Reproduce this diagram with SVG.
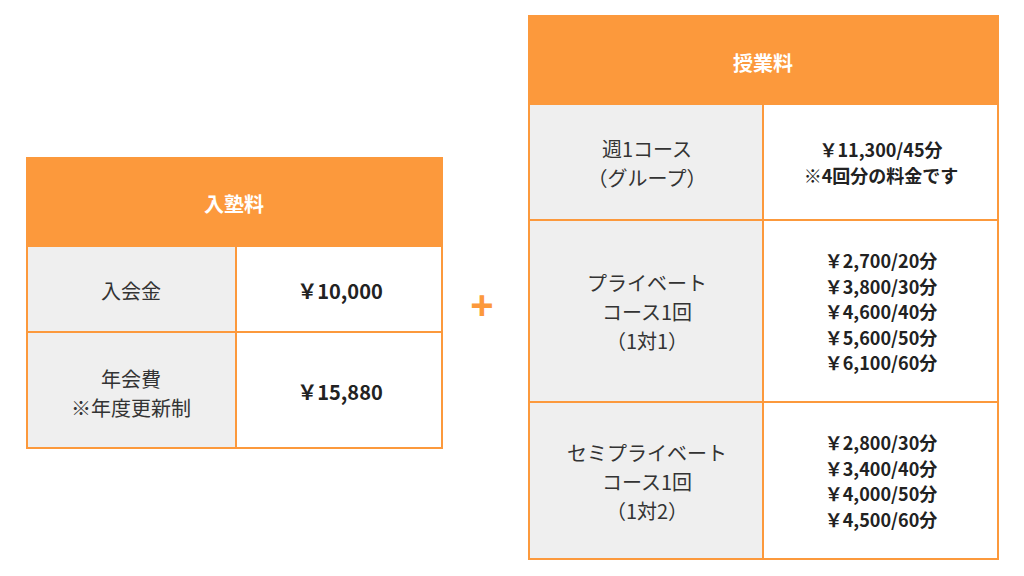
<svg xmlns="http://www.w3.org/2000/svg" width="1024" height="576" viewBox="0 0 1024 576">
<style>
.hd{fill:#FC993C;}
.gc{fill:#EFEFEF;}
.wc{fill:#FFFFFF;}
.ln{stroke:#FC993C;stroke-width:2;fill:none;}
text{font-family:"Noto Sans CJK JP","Noto Sans",sans-serif;text-anchor:middle;dominant-baseline:central;}
.ht{fill:#FFFFFF;font-weight:700;font-size:20px;}
.lb{fill:#333333;font-size:20px;}
.vl{fill:#222222;font-weight:700;font-size:20px;}
.vs{fill:#222222;font-weight:700;font-size:18px;}
.pl{fill:#FC993C;font-family:"Liberation Sans",sans-serif;font-weight:700;font-size:40px;dominant-baseline:auto;}
</style>
<rect width="1024" height="576" fill="#FFFFFF"/>

<g id="entrance-table">
  <g id="entrance-header">
    <rect class="hd" x="27" y="158" width="415" height="88"/>
    <text class="ht" x="234" y="203">入塾料</text>
  </g>
  <g id="entrance-row1">
    <rect class="gc" x="27" y="246" width="209" height="86"/>
    <rect class="wc" x="236" y="246" width="206" height="86"/>
    <text class="lb" x="131" y="290">入会金</text>
    <text class="vl" x="340" y="290">￥10,000</text>
  </g>
  <g id="entrance-row2">
    <rect class="gc" x="27" y="332" width="209" height="116"/>
    <rect class="wc" x="236" y="332" width="206" height="116"/>
    <text class="lb" x="131" y="378">年会費</text>
    <text class="lb" x="131" y="407">※年度更新制</text>
    <text class="vl" x="340" y="391">￥15,880</text>
  </g>
  <g id="entrance-lines">
    <rect class="ln" x="27" y="158" width="415" height="290"/>
    <line class="ln" x1="27" y1="246" x2="442" y2="246"/>
    <line class="ln" x1="27" y1="332" x2="442" y2="332"/>
    <line class="ln" x1="236" y1="246" x2="236" y2="448"/>
  </g>
</g>

<g id="plus">
  <text class="pl" x="482" y="319">+</text>
</g>

<g id="tuition-table">
  <g id="tuition-header">
    <rect class="hd" x="529" y="16" width="469" height="88"/>
    <text class="ht" x="763" y="62">授業料</text>
  </g>
  <g id="tuition-row1">
    <rect class="gc" x="529" y="104" width="234" height="116"/>
    <rect class="wc" x="763" y="104" width="235" height="116"/>
    <text class="lb" x="647" y="148">週1コース</text>
    <text class="lb" x="647" y="177">（グループ）</text>
    <text class="vs" x="881" y="149">￥11,300/45分</text>
    <text class="vs" x="881" y="175">※4回分の料金です</text>
  </g>
  <g id="tuition-row2">
    <rect class="gc" x="529" y="220" width="234" height="182"/>
    <rect class="wc" x="763" y="220" width="235" height="182"/>
    <text class="lb" x="647" y="282">プライベート</text>
    <text class="lb" x="647" y="311">コース1回</text>
    <text class="lb" x="647" y="340">（1対1）</text>
    <text class="vs" x="881" y="260">￥2,700/20分</text>
    <text class="vs" x="881" y="285.5">￥3,800/30分</text>
    <text class="vs" x="881" y="311">￥4,600/40分</text>
    <text class="vs" x="881" y="336.5">￥5,600/50分</text>
    <text class="vs" x="881" y="362">￥6,100/60分</text>
  </g>
  <g id="tuition-row3">
    <rect class="gc" x="529" y="402" width="234" height="157"/>
    <rect class="wc" x="763" y="402" width="235" height="157"/>
    <text class="lb" x="647" y="452">セミプライベート</text>
    <text class="lb" x="647" y="481">コース1回</text>
    <text class="lb" x="647" y="510">（1対2）</text>
    <text class="vs" x="881" y="442">￥2,800/30分</text>
    <text class="vs" x="881" y="467.5">￥3,400/40分</text>
    <text class="vs" x="881" y="493">￥4,000/50分</text>
    <text class="vs" x="881" y="518.5">￥4,500/60分</text>
  </g>
  <g id="tuition-lines">
    <rect class="ln" x="529" y="16" width="469" height="543"/>
    <line class="ln" x1="529" y1="104" x2="998" y2="104"/>
    <line class="ln" x1="529" y1="220" x2="998" y2="220"/>
    <line class="ln" x1="529" y1="402" x2="998" y2="402"/>
    <line class="ln" x1="763" y1="104" x2="763" y2="559"/>
  </g>
</g>
</svg>
